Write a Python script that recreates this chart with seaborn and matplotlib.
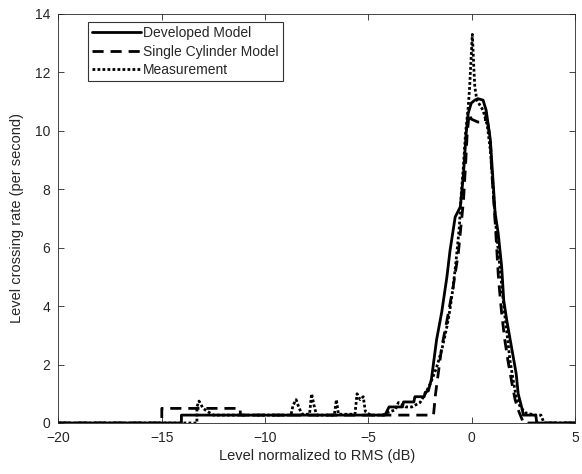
import matplotlib
matplotlib.use("Agg")
import matplotlib.pyplot as plt
import pandas as pd
import seaborn as sns

# Developed Model (solid)
dev_x = [-20, -14.05, -14.05, -4.2, -4.0, -3.35, -3.3, -2.8, -2.75, -2.3, -2.25, -2.1,
         -1.95, -1.7, -1.45, -1.2, -1.05, -0.8, -0.55, -0.4, -0.27, -0.17, -0.02, 0.15,
         0.3, 0.55, 0.7, 0.9, 1.05, 1.13, 1.28, 1.45, 1.55, 1.7, 1.95, 2.15, 2.25, 2.45,
         2.5, 3.1, 3.15, 5]
dev_y = [0, 0, 0.27, 0.27, 0.55, 0.55, 0.72, 0.72, 0.9, 0.9, 1.05, 1.1,
         1.5, 2.85, 3.8, 5.0, 5.9, 7.05, 7.4, 8.5, 9.9, 10.6, 10.95, 11.05,
         11.1, 11.05, 10.7, 9.7, 8.1, 7.2, 6.5, 5.35, 4.2, 3.5, 2.5, 1.7, 1.0, 0.45,
         0.27, 0.27, 0, 0]

# Single Cylinder Model (dashed)
sc_x = [-20, -15.0, -15.0, -11.2, -11.2, -1.85, -1.75, -1.6, -1.45, -1.2, -0.9, -0.65,
        -0.4, -0.3, -0.22, -0.12, -0.02, 0.3, 0.65, 0.7, 0.9, 0.97, 1.15, 1.3, 1.45,
        1.6, 1.75, 1.95, 2.1, 2.25, 2.45, 2.5, 5]
sc_y = [0, 0, 0.5, 0.5, 0.27, 0.27, 1.0, 1.8, 2.6, 3.5, 4.65, 5.8,
        7.6, 8.8, 9.9, 10.6, 10.4, 10.3, 10.3, 10.6, 9.7, 8.6, 6.7, 4.9, 3.75,
        2.85, 2.15, 1.35, 0.8, 0.45, 0.1, 0, 0]

# Measurement (dotted)
meas_x = [-20, -13.3, -13.3, -13.2, -13.0, -12.8, -12.5, -8.75, -8.65, -8.5, -8.35, -8.2,
          -7.85, -7.75, -7.6, -7.5, -6.65, -6.55, -6.45, -5.65, -5.55, -5.4, -5.25, -5.15,
          -4.9, -4.3, -4.1, -3.7, -3.55, -3.2, -2.9, -2.5, -2.25, -2.0, -1.7, -1.45, -1.2,
          -1.05, -0.9, -0.75, -0.6, -0.5, -0.4, -0.3, -0.17, -0.1, -0.05, 0.03, 0.1, 0.15,
          0.25, 0.55, 0.75, 0.9, 1.05, 1.2, 1.4, 1.55, 1.7, 1.85, 2.0, 2.15, 2.35, 2.6,
          3.05, 3.35, 3.5, 5]
meas_y = [0, 0, 0.55, 0.75, 0.5, 0.4, 0.27, 0.27, 0.6, 0.8, 0.5, 0.3,
          0.3, 1.0, 0.5, 0.27, 0.27, 0.8, 0.3, 0.3, 1.0, 0.8, 0.9, 0.4,
          0.27, 0.27, 0.35, 0.45, 0.7, 0.55, 0.55, 0.7, 1.0, 1.35, 1.9, 2.5, 3.3,
          3.9, 4.65, 5.6, 6.7, 7.9, 8.8, 9.9, 10.8, 11.5, 12.2, 13.3, 12.2, 11.5,
          11.05, 10.7, 10.2, 9.35, 7.9, 6.5, 5.1, 4.0, 3.1, 2.15, 1.5, 0.9, 0.55, 0.35,
          0.27, 0.27, 0, 0]

labels = ["Developed Model", "Single Cylinder Model", "Measurement"]

sns.set_style("ticks")
plt.rcParams["font.family"] = ["Liberation Sans", "DejaVu Sans"]
plt.rcParams["xtick.direction"] = "in"
plt.rcParams["ytick.direction"] = "in"

fig = plt.figure(figsize=(5.82, 4.74), dpi=100)
ax = fig.add_axes([0.1005, 0.1076, 0.8875, 0.863])

series = [(dev_x, dev_y, "-"), (sc_x, sc_y, (0, (4, 2.5))), (meas_x, meas_y, (0, (1, 0.8)))]
for (xs, ys, ls), lab in zip(series, labels):
    df = pd.DataFrame({"x": xs, "y": ys})
    sns.lineplot(data=df, x="x", y="y", ax=ax, estimator=None, sort=False,
                 color="black", linewidth=2, linestyle=ls, label=lab)

ax.set_xlim(-20, 5)
ax.set_ylim(0, 14)
ax.set_xticks([-20, -15, -10, -5, 0, 5])
ax.set_yticks(range(0, 15, 2))
ax.tick_params(axis="both", which="both", top=True, right=True, length=4,
               width=0.6, colors="#262626", labelsize=10, pad=6)
for s in ax.spines.values():
    s.set_linewidth(0.6)
    s.set_color("#262626")
ax.set_xlabel("Level normalized to RMS (dB)", fontsize=10.5, color="#262626", labelpad=3)
ax.set_ylabel("Level crossing rate (per second)", fontsize=10.5, color="#262626", labelpad=8)

leg = ax.legend(loc="upper left", bbox_to_anchor=(0.057, 0.98), borderaxespad=0,
                fontsize=10, handlelength=3.5, handletextpad=0.15, labelspacing=0.32,
                fancybox=False, frameon=True, borderpad=0.3)
leg.get_frame().set_edgecolor("black")
leg.get_frame().set_linewidth(0.8)

fig.savefig("out.png", dpi=100)
